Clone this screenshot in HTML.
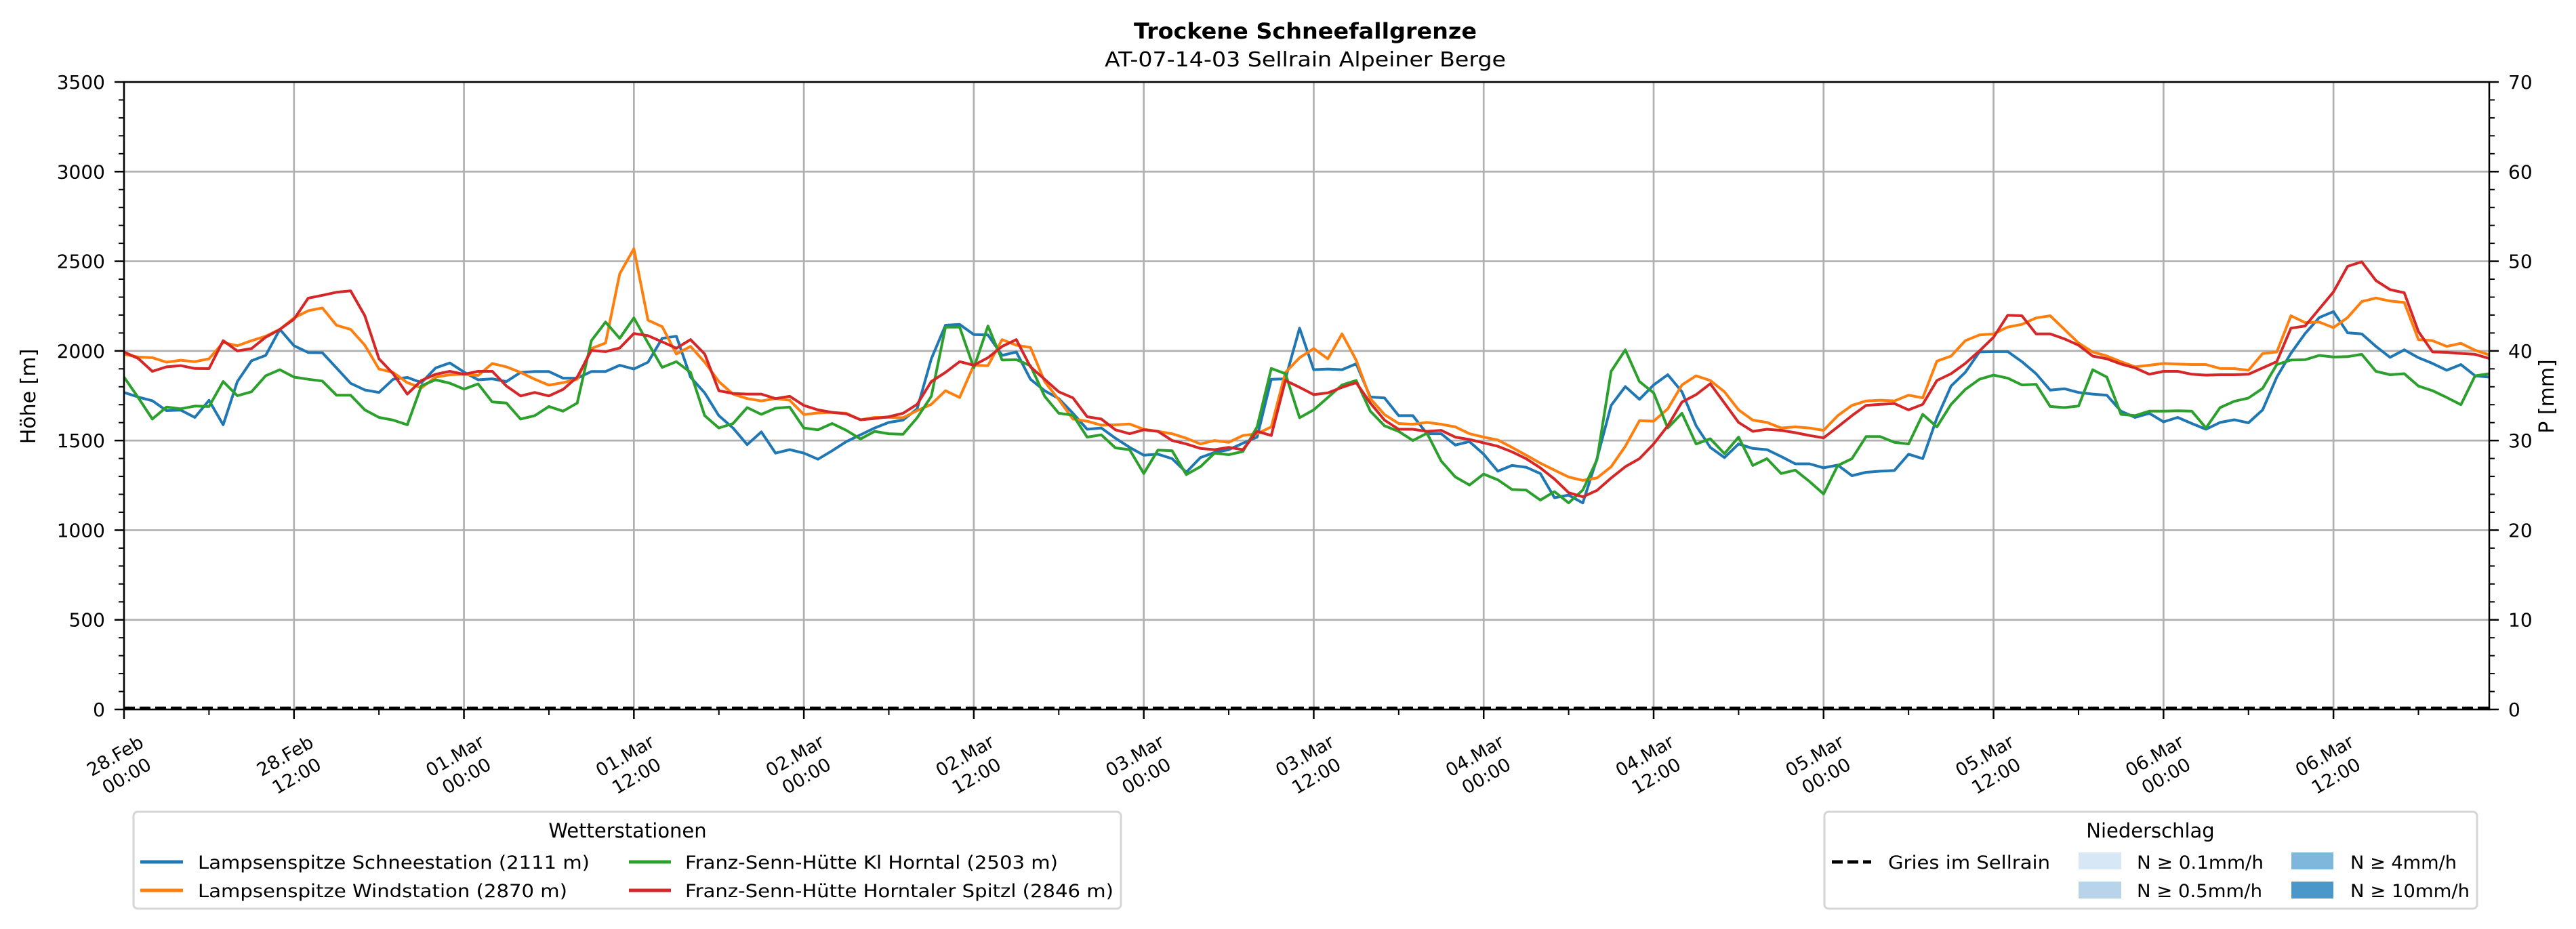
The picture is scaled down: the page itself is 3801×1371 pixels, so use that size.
<!DOCTYPE html>
<html><head><meta charset="utf-8"><style>
html,body{margin:0;padding:0;background:#fff;}
svg{display:block;font-family:"DejaVu Sans","Liberation Sans",sans-serif;}
</style></head><body>
<svg id="chart" width="3801" height="1371" viewBox="0 0 3801 1371" xmlns="http://www.w3.org/2000/svg">
<rect x="0" y="0" width="3801" height="1371" fill="#fff"/>
<text x="1926" y="57" font-size="32" font-weight="bold" text-anchor="middle" textLength="506" lengthAdjust="spacingAndGlyphs">Trockene Schneefallgrenze</text>
<text x="1926" y="98" font-size="30" text-anchor="middle" textLength="592" lengthAdjust="spacingAndGlyphs">AT-07-14-03 Sellrain Alpeiner Berge</text>
<g id="grid"></g>
<g id="series"></g>
<g id="axes"></g>
<text x="0" y="0" transform="translate(52,585) rotate(-90)" font-size="30" text-anchor="middle">Höhe [m]</text>
<text x="0" y="0" transform="translate(3768,585) rotate(-90)" font-size="30" text-anchor="middle">P [mm]</text>

<g>
<rect x="197" y="1198" width="1457" height="143" rx="6" fill="#fff" stroke="#d6d6d6" stroke-width="3"/>
<text x="926" y="1236" font-size="29" text-anchor="middle">Wetterstationen</text>
<g><line x1="207" y1="1272" x2="270" y2="1272" stroke="#1f77b4" stroke-width="5"/><text x="292" y="1282" font-size="27" textLength="578" lengthAdjust="spacingAndGlyphs">Lampsenspitze Schneestation (2111 m)</text></g>
<g><line x1="207" y1="1314" x2="270" y2="1314" stroke="#ff7f0e" stroke-width="5"/><text x="292" y="1324" font-size="27" textLength="545" lengthAdjust="spacingAndGlyphs">Lampsenspitze Windstation (2870 m)</text></g>
<g><line x1="928" y1="1272" x2="990" y2="1272" stroke="#2ca02c" stroke-width="5"/><text x="1011" y="1282" font-size="27" textLength="550" lengthAdjust="spacingAndGlyphs">Franz-Senn-Hütte Kl Horntal (2503 m)</text></g>
<g><line x1="928" y1="1314" x2="990" y2="1314" stroke="#d62728" stroke-width="5"/><text x="1011" y="1324" font-size="27" textLength="632" lengthAdjust="spacingAndGlyphs">Franz-Senn-Hütte Horntaler Spitzl (2846 m)</text></g>
</g>

<g>
<rect x="2692" y="1198" width="963" height="143" rx="6" fill="#fff" stroke="#d6d6d6" stroke-width="3"/>
<text x="3173" y="1236" font-size="29" text-anchor="middle">Niederschlag</text>
<g><line x1="2703" y1="1272" x2="2761" y2="1272" stroke="#000" stroke-width="5" stroke-dasharray="16,7"/><text x="2786" y="1282" font-size="27" textLength="239" lengthAdjust="spacingAndGlyphs">Gries im Sellrain</text></g>
<g><rect x="3067" y="1258" width="63" height="25" fill="#d8e7f5"/><text x="3153" y="1282" font-size="27" textLength="187" lengthAdjust="spacingAndGlyphs">N ≥ 0.1mm/h</text></g>
<g><rect x="3067" y="1301" width="63" height="25" fill="#b7d4ea"/><text x="3153" y="1324" font-size="27" textLength="185" lengthAdjust="spacingAndGlyphs">N ≥ 0.5mm/h</text></g>
<g><rect x="3381" y="1258" width="62" height="25" fill="#7fb6db"/><text x="3468" y="1282" font-size="27" textLength="157" lengthAdjust="spacingAndGlyphs">N ≥ 4mm/h</text></g>
<g><rect x="3381" y="1301" width="62" height="25" fill="#4a98c9"/><text x="3468" y="1324" font-size="27" textLength="176" lengthAdjust="spacingAndGlyphs">N ≥ 10mm/h</text></g>
</g>
</svg>
<script>
const hours = Array.from({length:168},(_, i)=>i);
const xTickLabels = ["28.Feb|00:00","28.Feb|12:00","01.Mar|00:00","01.Mar|12:00","02.Mar|00:00","02.Mar|12:00","03.Mar|00:00","03.Mar|12:00","04.Mar|00:00","04.Mar|12:00","05.Mar|00:00","05.Mar|12:00","06.Mar|00:00","06.Mar|12:00"];
const yTicks = [0,500,1000,1500,2000,2500,3000,3500];
const y2Ticks = [0,10,20,30,40,50,60,70];
const blueValues = [1768,1743,1722,1667,1670,1629,1724,1588,1829,1945,1975,2120,2029,1991,1990,1905,1819,1782,1768,1842,1852,1823,1905,1933,1882,1839,1844,1829,1880,1885,1885,1848,1848,1885,1885,1920,1899,1937,2070,2082,1854,1766,1639,1570,1477,1548,1430,1449,1430,1396,1443,1494,1532,1570,1601,1614,1677,1956,2143,2148,2091,2089,1975,1994,1842,1778,1734,1652,1563,1570,1513,1462,1418,1424,1399,1323,1405,1434,1449,1485,1519,1842,1844,2127,1895,1899,1895,1928,1743,1738,1639,1639,1538,1538,1475,1494,1424,1329,1361,1351,1316,1181,1196,1152,1399,1696,1801,1730,1810,1867,1772,1582,1462,1405,1481,1456,1449,1411,1370,1370,1348,1363,1304,1323,1329,1333,1424,1399,1626,1804,1880,1994,1996,1996,1940,1873,1781,1789,1768,1759,1753,1664,1629,1652,1604,1629,1595,1563,1601,1616,1599,1671,1854,1987,2097,2186,2219,2101,2095,2025,1964,2006,1962,1930,1892,1924,1861,1854];
const orangeValues = [1981,1966,1962,1937,1948,1940,1956,2047,2029,2057,2082,2120,2184,2224,2240,2143,2120,2032,1899,1880,1823,1794,1854,1867,1870,1863,1930,1911,1880,1842,1809,1823,1842,2013,2044,2430,2570,2171,2135,1983,2025,1937,1829,1759,1734,1721,1734,1725,1645,1654,1657,1652,1616,1629,1629,1627,1667,1702,1778,1740,1920,1918,2063,2032,2019,1829,1728,1620,1608,1586,1588,1592,1563,1551,1538,1513,1481,1500,1490,1528,1538,1576,1880,1962,2013,1956,2095,1949,1734,1645,1595,1591,1601,1591,1576,1538,1519,1503,1462,1418,1374,1335,1297,1278,1291,1354,1468,1611,1608,1677,1810,1861,1835,1772,1671,1614,1601,1570,1576,1570,1557,1639,1696,1721,1725,1721,1753,1738,1943,1971,2057,2089,2095,2133,2148,2184,2196,2120,2044,1994,1972,1940,1911,1920,1930,1927,1924,1924,1902,1901,1892,1985,1994,2196,2158,2161,2130,2186,2275,2295,2278,2270,2063,2057,2025,2042,2004,1978];
const greenValues = [1854,1740,1620,1687,1677,1692,1690,1829,1750,1772,1861,1895,1854,1842,1832,1753,1753,1671,1629,1614,1588,1806,1839,1820,1787,1816,1715,1709,1620,1639,1690,1664,1709,2057,2161,2070,2184,2044,1908,1940,1880,1639,1570,1595,1684,1646,1680,1687,1570,1560,1595,1557,1509,1551,1538,1535,1627,1747,2133,2133,1905,2139,1949,1951,1918,1747,1652,1642,1519,1532,1459,1449,1316,1447,1443,1310,1354,1430,1421,1439,1576,1902,1873,1627,1671,1740,1810,1835,1664,1582,1551,1500,1541,1386,1297,1252,1313,1281,1227,1224,1168,1215,1152,1224,1392,1886,2006,1829,1766,1570,1652,1481,1510,1427,1519,1361,1399,1316,1335,1272,1202,1361,1399,1522,1522,1490,1481,1646,1576,1702,1785,1842,1865,1848,1810,1814,1690,1684,1692,1895,1854,1646,1639,1664,1664,1666,1664,1570,1684,1719,1737,1791,1924,1949,1951,1975,1966,1968,1981,1886,1867,1873,1804,1778,1740,1700,1861,1873];
const redValues = [1994,1958,1886,1911,1918,1902,1901,2057,2000,2013,2076,2120,2177,2294,2310,2327,2335,2196,1956,1873,1759,1835,1870,1886,1870,1886,1886,1804,1749,1768,1749,1785,1854,2003,1996,2016,2097,2085,2051,2015,2063,1983,1778,1763,1759,1759,1734,1747,1696,1671,1657,1649,1616,1623,1633,1652,1702,1829,1880,1940,1920,1962,2025,2063,1911,1842,1772,1738,1633,1620,1560,1538,1560,1551,1500,1481,1456,1449,1462,1449,1551,1528,1835,1797,1756,1766,1797,1823,1709,1614,1563,1563,1551,1557,1519,1506,1487,1468,1437,1399,1348,1285,1209,1186,1222,1291,1354,1399,1481,1582,1715,1756,1817,1709,1601,1551,1563,1557,1544,1528,1515,1576,1639,1696,1702,1706,1671,1702,1835,1873,1930,2000,2076,2199,2196,2095,2095,2067,2032,1971,1956,1927,1905,1870,1886,1886,1870,1865,1867,1867,1870,1905,1940,2127,2139,2234,2329,2472,2497,2392,2342,2324,2108,1994,1992,1986,1981,1958];
const precipValues = new Array(168).fill(0);

const NS='http://www.w3.org/2000/svg';
const L=183,R=3673,T=121,B=1047,XMAX=167,YMAX=3500,PMAX=70;
function xs(h){return L+(R-L)*h/XMAX;}
function ys(v){return B-(B-T)*v/YMAX;}
function ps(p){return B-(B-T)*p/PMAX;}
function mk(tag,attrs,parent){const e=document.createElementNS(NS,tag);for(const k in attrs)e.setAttribute(k,attrs[k]);parent.appendChild(e);return e;}
const grid=document.getElementById('grid'),axes=document.getElementById('axes'),series=document.getElementById('series');

xTickLabels.forEach((lab,i)=>{
  const x=xs(i*12);
  const g=mk('line',{x1:x,y1:T,x2:x,y2:B,stroke:'#b0b0b0','stroke-width':2.7},grid);
  
  
  const t=mk('line',{x1:x,y1:B,x2:x,y2:B+14,stroke:'#000','stroke-width':2.5},axes);
  
  
  const parts=lab.split('|');
  const tx=mk('text',{transform:`translate(${x-6},1128) rotate(-30)`,'font-size':27,'text-anchor':'middle'},axes);
  
  
  mk('tspan',{x:0,y:-5},tx).textContent=parts[0];
  mk('tspan',{x:0,y:29},tx).textContent=parts[1];
});
for(let h=6;h<XMAX;h+=12){
  const m=mk('line',{x1:xs(h),y1:B,x2:xs(h),y2:B+8,stroke:'#000','stroke-width':2},axes);
  
  
}
yTicks.forEach(v=>{
  const y=ys(v);
  const g=mk('line',{x1:L,y1:y,x2:R,y2:y,stroke:'#b0b0b0','stroke-width':2.7},grid);
  
  
  const t=mk('line',{x1:L-14,y1:y,x2:L,y2:y,stroke:'#000','stroke-width':2.5},axes);
  
  
  const tx=mk('text',{x:L-28,y:y+10,'font-size':28,'text-anchor':'end'},axes);
  
  
  tx.textContent=v;
});
for(let v=100;v<YMAX;v+=100){ if(v%500===0) continue;
  const m=mk('line',{x1:L-8,y1:ys(v),x2:L,y2:ys(v),stroke:'#000','stroke-width':2},axes);
  
  
}
y2Ticks.forEach(p=>{
  const y=ps(p);
  const t=mk('line',{x1:R,y1:y,x2:R+14,y2:y,stroke:'#000','stroke-width':2.5},axes);
  
  
  const tx=mk('text',{x:R+28,y:y+10,'font-size':28,'text-anchor':'start'},axes);
  
  
  tx.textContent=p;
});
for(let p=2;p<PMAX;p+=2){ if(p%10===0) continue;
  const m=mk('line',{x1:R,y1:ps(p),x2:R+8,y2:ps(p),stroke:'#000','stroke-width':2},axes);
  
  
}
const frame=mk('rect',{x:L,y:T,width:R-L,height:B-T,fill:'none',stroke:'#000','stroke-width':2.5},axes);



function drawLine(vals,color,name){
  const d=vals.map((v,i)=>(i?'L':'M')+xs(hours[i]).toFixed(1)+','+ys(v).toFixed(1)).join(' ');
  const p=mk('path',{d:d,fill:'none',stroke:color,'stroke-width':4,'stroke-linejoin':'round'},series);
  
  
}
drawLine(blueValues,'#1f77b4','line-lampsenspitze-schneestation');
drawLine(orangeValues,'#ff7f0e','line-lampsenspitze-windstation');
drawLine(greenValues,'#2ca02c','line-franz-senn-kl-horntal');
drawLine(redValues,'#d62728','line-franz-senn-horntaler-spitzl');
const pd=precipValues.map((v,i)=>(i?'L':'M')+xs(hours[i]).toFixed(1)+','+(ps(v)-2).toFixed(1)).join(' ');
const pp=mk('path',{d:pd,fill:'none',stroke:'#000','stroke-width':4.5,'stroke-dasharray':'16,7'},series);


</script>
</body></html>
